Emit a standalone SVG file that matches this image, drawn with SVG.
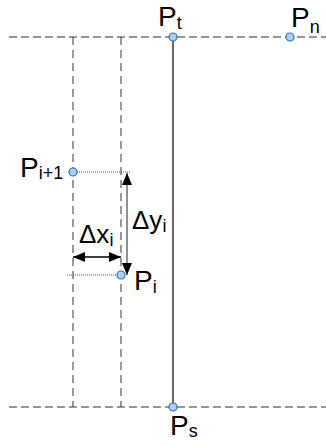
<svg xmlns="http://www.w3.org/2000/svg" width="326" height="445" viewBox="0 0 326 445">
<style>
.guide{stroke:#777;stroke-width:1.3;stroke-dasharray:8 4;fill:none}
.vguide{stroke:#333;stroke-width:1;stroke-dasharray:8 5;fill:none}
.dot{stroke:#555;stroke-width:1;stroke-dasharray:1 1;fill:none}
.pt{fill:#a8d0f6;stroke:#3b6fa8;stroke-width:1.2}
.lbl{font-family:"Liberation Sans",Arial,sans-serif;font-size:28px;fill:#000}
.dl{font-size:26px}
.sub{font-size:18px}
</style>
<defs>
<marker id="ahk" markerWidth="12" markerHeight="10" refX="12" refY="5" orient="auto-start-reverse" markerUnits="userSpaceOnUse">
<path d="M0,0 L12,5 L0,10 Z" fill="#000"/>
</marker>
</defs>
<g id="guides">
<line class="guide" x1="9" y1="37" x2="326" y2="37"/>
<line class="guide" x1="9" y1="407" x2="326" y2="407"/>
<line class="vguide" x1="73" y1="37" x2="73" y2="407"/>
<line class="vguide" x1="121" y1="37" x2="121" y2="407"/>
</g>
<g id="connectors">
<line x1="173" y1="37" x2="173" y2="407" stroke="#000" stroke-width="1.2"/>
<line class="dot" x1="73" y1="172" x2="131" y2="172"/>
<line class="dot" x1="67" y1="275" x2="121" y2="275"/>
<line x1="127" y1="173" x2="127" y2="275" stroke="#555" stroke-width="1.3" marker-start="url(#ahk)" marker-end="url(#ahk)"/>
<line x1="73" y1="257" x2="121" y2="257" stroke="#000" stroke-width="1.3" marker-start="url(#ahk)" marker-end="url(#ahk)"/>
</g>
<g id="Pt">
<circle class="pt" cx="173" cy="37" r="4"/>
<text class="lbl" x="158" y="26">P<tspan class="sub" dy="3">t</tspan></text>
</g>
<g id="Pn">
<circle class="pt" cx="290" cy="37" r="4"/>
<text class="lbl" x="291" y="27">P<tspan class="sub" dy="6">n</tspan></text>
</g>
<g id="Pi1">
<circle class="pt" cx="73" cy="172" r="4"/>
<text class="lbl" x="20" y="177">P<tspan class="sub" dy="2">i+1</tspan></text>
</g>
<g id="Pi">
<circle class="pt" cx="121" cy="275" r="4"/>
<text class="lbl" x="134" y="290">P<tspan class="sub" dy="3">i</tspan></text>
</g>
<g id="Ps">
<circle class="pt" cx="173" cy="407" r="4"/>
<text class="lbl" x="170" y="435">P<tspan class="sub" dy="2">s</tspan></text>
</g>
<g id="dx">
<text class="lbl dl" x="79" y="243">Δx<tspan class="sub" dy="3">i</tspan></text>
</g>
<g id="dy">
<text class="lbl dl" x="132" y="229">Δy<tspan class="sub" dy="3">i</tspan></text>
</g>
</svg>
